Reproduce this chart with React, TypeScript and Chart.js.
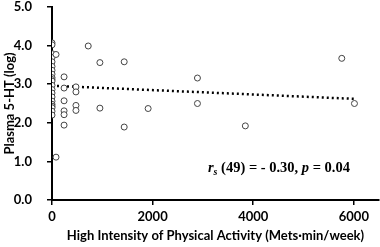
import React, { useEffect, useRef } from "react";
import { Chart, registerables } from "chart.js";

Chart.register(...registerables);

// Scatter data: high-intensity physical activity (Mets·min/week) vs plasma 5-HT (log)
const activityX = [
  0, 0, 0, 0, 0, 0, 0, 0, 0, 0, 0, 0, 0, 0, 0, 0, 0, 0, 0, 0, 0,
  80, 80,
  240, 240, 240, 240, 240, 240,
  476, 476, 476, 476,
  720,
  952, 952,
  1435, 1435,
  1911,
  2891, 2891,
  3843,
  5760,
  6012,
];
const serotoninY = [
  4.07, 4.02, 3.79, 3.69, 3.58, 3.46, 3.36, 3.26, 3.17, 3.12, 3.08, 2.97, 2.86, 2.77, 2.67, 2.56, 2.48, 2.43, 2.39, 2.30, 2.20,
  3.77, 1.11,
  3.19, 2.90, 2.57, 2.31, 2.21, 1.94,
  2.93, 2.80, 2.45, 2.32,
  3.99,
  3.56, 2.38,
  3.58, 1.89,
  2.37,
  3.16, 2.50,
  1.92,
  3.67,
  2.50,
];

// Dotted linear trend line end points
const trendX = [0, 6012];
const trendY = [2.96, 2.62];

const yTicks = [0, 1, 2, 3, 4, 5];
const xTicks = [0, 2000, 4000, 6000];

const statText = { r: "r", sub: "s", mid: " (49) = - 0.30, ", p: "p", end: " = 0.04" };

const labelFont = "Lato, 'Open Sans', sans-serif";

export default function App() {
  const ref = useRef<HTMLCanvasElement | null>(null);

  useEffect(() => {
    document.body.style.margin = "0";
    const canvas = ref.current;
    if (!canvas) return;

    const annotation = {
      id: "statAnnotation",
      afterDraw(chart: any) {
        const { ctx, scales } = chart;
        const x0 = scales.x.getPixelForValue(3100);
        const y0 = scales.y.getPixelForValue(0.72);
        ctx.save();
        ctx.fillStyle = "#000";
        ctx.textBaseline = "alphabetic";
        ctx.textAlign = "left";
        const main = "bold italic 14.5px 'Liberation Serif', 'Times New Roman', serif";
        const upright = "bold 14.5px 'Liberation Serif', 'Times New Roman', serif";
        const small = "bold italic 10px 'Liberation Serif', 'Times New Roman', serif";
        let x = x0;
        ctx.font = main;
        ctx.fillText(statText.r, x, y0);
        x += ctx.measureText(statText.r).width;
        ctx.font = small;
        ctx.fillText(statText.sub, x, y0 + 3);
        x += ctx.measureText(statText.sub).width;
        ctx.font = upright;
        ctx.fillText(statText.mid, x, y0);
        x += ctx.measureText(statText.mid).width;
        ctx.font = main;
        ctx.fillText(statText.p, x, y0);
        x += ctx.measureText(statText.p).width;
        ctx.font = upright;
        ctx.fillText(statText.end, x, y0);
        ctx.restore();
      },
    };

    const chart = new Chart(canvas, {
      type: "scatter",
      data: {
        datasets: [
          {
            type: "line",
            data: trendX.map((x, i) => ({ x, y: trendY[i] })),
            borderColor: "#000",
            borderWidth: 2.5,
            borderDash: [2, 3],
            pointRadius: 0,
            fill: false,
            order: 2,
          } as any,
          {
            data: activityX.map((x, i) => ({ x, y: serotoninY[i] })),
            backgroundColor: "#fff",
            borderColor: "#444",
            borderWidth: 1,
            pointRadius: 3,
            order: 1,
          },
        ],
      },
      plugins: [annotation],
      options: {
        animation: false,
        responsive: false,
        events: [],
        layout: { autoPadding: false, padding: { top: 7, right: 1, left: 0, bottom: 0 } },
        plugins: { legend: { display: false }, tooltip: { enabled: false } },
        scales: {
          x: {
            type: "linear",
            min: 0,
            max: 6500,
            afterFit: (s: any) => {
              s.height = 47;
              s.paddingLeft = 0;
              s.paddingRight = 0;
            },
            afterBuildTicks: (s: any) => {
              s.ticks = xTicks.map((v) => ({ value: v }));
            },
            border: { display: true, color: "#000", width: 2 },
            grid: { display: true, drawOnChartArea: false, drawTicks: true, tickLength: 5, color: "#000", lineWidth: 1.5 },
            ticks: {
              color: "#000",
              padding: 4,
              font: { family: labelFont, size: 13, weight: "bold" },
              callback: (v: any) => String(v),
            },
            title: {
              display: true,
              text: "High Intensity of Physical Activity (Mets·min/week)",
              color: "#000",
              font: { family: labelFont, size: 13, weight: "bold" },
              padding: { top: 0, bottom: 3 },
            },
          },
          y: {
            type: "linear",
            min: 0,
            max: 5,
            afterFit: (s: any) => {
              s.width = 52;
              s.paddingTop = 0;
              s.paddingBottom = 0;
            },
            afterBuildTicks: (s: any) => {
              s.ticks = yTicks.map((v) => ({ value: v }));
            },
            border: { display: true, color: "#000", width: 2 },
            grid: { display: true, drawOnChartArea: false, drawTicks: true, tickLength: 5, color: "#000", lineWidth: 1.5 },
            ticks: {
              color: "#000",
              padding: 15,
              font: { family: labelFont, size: 13, weight: "bold" },
              callback: (v: any) => Number(v).toFixed(1),
            },
            title: {
              display: true,
              text: "Plasma 5-HT (log)",
              color: "#000",
              font: { family: labelFont, size: 13, weight: "bold" },
              padding: { top: 2, bottom: 0 },
            },
          },
        },
      },
    });
    return () => chart.destroy();
  }, []);

  return (
    <div style={{ width: 380, height: 247, background: "#fff" }}>
      <canvas ref={ref} width={380} height={247} style={{ width: 380, height: 247, display: "block" }} />
    </div>
  );
}
